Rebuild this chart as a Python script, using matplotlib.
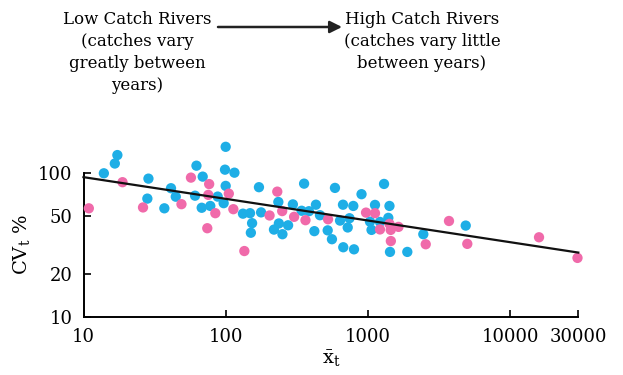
import numpy as np
import matplotlib
matplotlib.use("Agg")
import matplotlib.pyplot as plt

# data (log-log: mean catch vs CV of catch)
blue_x = [17.3, 16.6, 13.9, 28.6, 28.1, 37.0, 41.2, 44.5, 99.8, 62.2,
          68.8, 98.7, 115, 99.8, 171, 87.7, 96.6, 60.8, 67.7, 77.8,
          132, 148, 177, 234, 153, 150, 236, 218, 250, 355,
          585, 899, 1294, 296, 341, 384, 430, 459, 635, 666,
          787, 740, 719, 274, 419, 520, 557, 669, 796, 1118,
          1031, 1057, 1212, 1413, 1387, 1425, 1886, 2443, 4853]
blue_y = [134, 117, 100, 91.8, 66.6, 57.0, 78.7, 68.7, 153, 113,
          94.8, 106, 101, 81.7, 80.0, 68.8, 61.9, 69.8, 57.5, 59.2,
          52.3, 52.7, 53.4, 63.1, 44.9, 38.5, 44.7, 40.5, 37.6, 84.7,
          79.1, 71.5, 84.3, 60.7, 54.8, 54.4, 60.4, 51.0, 46.8, 60.4,
          59.2, 48.6, 41.9, 43.4, 39.5, 40.0, 34.7, 30.5, 29.5, 60.2,
          46.0, 40.3, 45.8, 59.2, 48.9, 28.3, 28.3, 37.6, 43.2]

pink_x = [18.8, 26.2, 10.9, 48.8, 56.9, 76.4, 105, 75.3, 84.4, 113,
          203, 230, 249, 74.1, 135, 302, 363, 523, 967, 1118,
          1212, 1413, 1442, 1635, 1445, 2541, 3702, 4978, 15890, 29610]
pink_y = [86.7, 57.8, 57.0, 60.9, 93.3, 84.1, 72.1, 70.7, 52.7, 56.2,
          50.8, 74.5, 54.5, 41.4, 28.7, 49.7, 47.1, 47.8, 53.2, 52.7,
          40.6, 44.4, 40.3, 42.3, 33.7, 32.0, 46.5, 32.2, 35.8, 25.7]

fit_x = [10, 30000]
fit_y = [94, 28]

x_ticks = [10, 100, 1000, 10000, 30000]
y_ticks = [10, 20, 50, 100]

left_lines = ["Low Catch Rivers", "(catches vary", "greatly between", "years)"]
right_lines = ["High Catch Rivers", "(catches vary little", "between years)"]

plt.rcParams['font.family'] = 'DejaVu Serif'
plt.rcParams['mathtext.fontset'] = 'dejavuserif'

W, H = 623, 375
fig = plt.figure(figsize=(W / 100, H / 100), dpi=100)
ax = fig.add_axes([83.5 / W, 1 - 316.7 / H, (578.3 - 83.5) / W, (316.7 - 173.3) / H])

ax.set_xscale('log')
ax.set_yscale('log')
ax.set_xlim(10, 30000)
ax.set_ylim(10, 100)

ax.scatter(blue_x, blue_y, s=55, color='#1eaee6', edgecolors='none', clip_on=False, zorder=3)
ax.scatter(pink_x, pink_y, s=55, color='#f06aaa', edgecolors='none', clip_on=False, zorder=3)
ax.plot(fit_x, fit_y, color='#111111', lw=1.6, zorder=4, clip_on=False)

ax.set_xticks(x_ticks)
ax.set_xticklabels([str(t) for t in x_ticks])
ax.set_yticks(y_ticks)
ax.set_yticklabels([str(t) for t in y_ticks])
ax.minorticks_off()
ax.tick_params(direction='in', length=5, width=1.2, labelsize=13, pad=8)

for side in ['top', 'right']:
    ax.spines[side].set_visible(False)
for side in ['left', 'bottom']:
    ax.spines[side].set_linewidth(1.4)

ax.set_ylabel(r'CV$_\mathrm{t}$ %', fontsize=14, labelpad=4)
ax.set_xlabel(r'$\bar{\mathrm{x}}_\mathrm{t}$', fontsize=14, labelpad=2)

# header annotation
for i, s in enumerate(left_lines):
    fig.text(137 / W, 1 - (20 + 21.7 * i) / H, s, ha='center', va='center', fontsize=12)
for i, s in enumerate(right_lines):
    fig.text(422 / W, 1 - (20 + 21.7 * i) / H, s, ha='center', va='center', fontsize=12)

ax.annotate('', xy=(342, H - 27), xytext=(218, H - 27),
            xycoords='figure pixels', textcoords='figure pixels',
            arrowprops=dict(arrowstyle='-|>', color='#222222', lw=1.8,
                            mutation_scale=18, shrinkA=0, shrinkB=0))

fig.savefig('out.png', dpi=100)
